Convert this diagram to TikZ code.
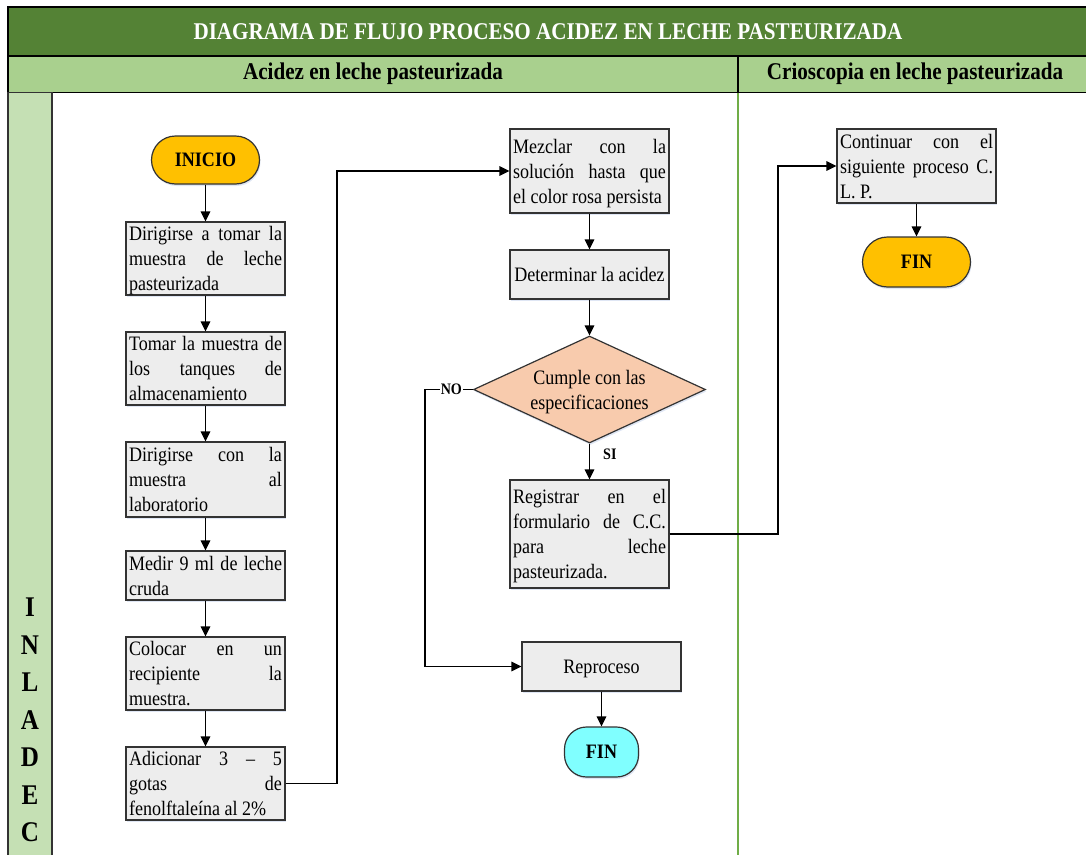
\documentclass[tikz,border=0pt]{standalone}
\usepackage{fontspec}
\setmainfont{Liberation Serif}[FakeStretch=0.88]
\usetikzlibrary{arrows.meta,shapes.geometric,shadows}

\definecolor{titlegreen}{HTML}{548235}
\definecolor{subgreen}{HTML}{A9D08E}
\definecolor{lanegreen}{HTML}{C5E0B4}
\definecolor{divgreen}{HTML}{70AD47}
\definecolor{termyellow}{HTML}{FFC000}
\definecolor{termcyan}{HTML}{80FFFF}
\definecolor{decisionfill}{HTML}{F8CBAD}
\definecolor{boxfill}{HTML}{EDEDED}
\definecolor{edgegray}{HTML}{333333}
\definecolor{glow}{HTML}{C9D6EC}

% one justified line of a process box
\newcommand\jline[1]{\makebox[153pt][s]{#1}}

\begin{document}
\begin{tikzpicture}[x=1pt,y=-1pt,
  glowshadow/.style={drop shadow={shadow xshift=1pt,shadow yshift=-2pt,fill=glow,opacity=0.6}},
  procbox/.style={draw=edgegray,fill=boxfill,line width=1.2pt,glowshadow,
    minimum width=159pt,inner xsep=3pt,inner ysep=2pt,align=left,text depth=0pt,
    font=\fontsize{20.5}{25}\selectfont},
  centerbox/.style={procbox,align=center},
  terminal/.style={draw=edgegray,line width=1.2pt,glowshadow,
    font=\fontsize{20.5}{24}\selectfont\bfseries,inner sep=0pt},
  decision/.style={diamond,draw=edgegray,fill=decisionfill,line width=1.2pt,glowshadow,
    shape aspect=2.17,inner sep=0pt,minimum width=232pt,minimum height=107pt,
    align=center,text depth=0pt,font=\fontsize{20.5}{25}\selectfont},
  flow/.style={line width=1.4pt,-{Triangle[length=10pt,width=9.5pt]}},
  branchlabel/.style={font=\fontsize{16}{18}\selectfont\bfseries,inner sep=1pt},
  headtext/.style={font=\fontsize{24}{26}\selectfont\bfseries}
]
\useasboundingbox (0,0) rectangle (1086,854);

% ---- swimlane frame ----
\path[draw=black,line width=1.2pt,fill=titlegreen] (8,7) rectangle (1092,56);
\path[draw=black,line width=1.2pt,fill=subgreen] (8,56) rectangle (1092,92.5);
\draw[black,line width=1.2pt] (738,56) -- (738,92.5);
\draw[divgreen,line width=1.5pt] (738,92.5) -- (738,860);
\path[draw=edgegray,line width=1.2pt,fill=lanegreen] (8,92.5) rectangle (52,860);

\node[headtext,text=white] (title) at (548,31.5) {DIAGRAMA DE FLUJO PROCESO ACIDEZ EN LECHE PASTEURIZADA};
\node[headtext] (laneA) at (373,74) {Acidez en leche pasteurizada};
\node[headtext] (laneB) at (915,74) {Crioscopia en leche pasteurizada};
\node[font=\fontsize{28.5}{37.5}\selectfont\bfseries,align=center] (org) at (30,720)
  {I\\N\\L\\A\\D\\E\\C};

% ---- first column ----
\node[terminal,fill=termyellow,rounded corners=24pt,minimum width=108pt,minimum height=48pt]
  (ini) at (205.5,160) {INICIO};
\node[procbox,minimum height=73pt] (b1) at (205.5,258.5)
  {\jline{Dirigirse a tomar la}\\\jline{muestra de leche}\\pasteurizada};
\node[procbox,minimum height=73pt] (b2) at (205.5,368.5)
  {\jline{Tomar la muestra de}\\\jline{los tanques de}\\almacenamiento};
\node[procbox,minimum height=75pt] (b3) at (205.5,479.5)
  {\jline{Dirigirse con la}\\\jline{muestra al}\\laboratorio};
\node[procbox,minimum height=49pt] (b4) at (205.5,575.5)
  {\jline{Medir 9 ml de leche}\\cruda};
\node[procbox,minimum height=73pt] (b5) at (205.5,673.5)
  {\jline{Colocar en un}\\\jline{recipiente la}\\muestra.};
\node[procbox,minimum height=73pt] (b6) at (205.5,783.5)
  {\jline{Adicionar 3 – 5}\\\jline{gotas de}\\fenolftaleína al 2\%};

% ---- second column ----
\node[procbox,minimum height=84pt] (mez) at (589.5,171)
  {\jline{Mezclar con la}\\\jline{solución hasta que}\\el color rosa persista};
\node[procbox,minimum height=49pt] (det) at (589.5,274.5) {Determinar la acidez};
\node[decision] (dec) at (589.5,389.5) {Cumple con las\\especificaciones};
\node[procbox,minimum height=108pt] (reg) at (589.5,534)
  {\jline{Registrar en el}\\\jline{formulario de C.C.}\\\jline{para leche}\\pasteurizada.};
\node[centerbox,minimum height=49pt] (rep) at (601.5,666.5) {Reproceso};
\node[terminal,fill=termcyan,rounded corners=22pt,minimum width=74pt,minimum height=50pt]
  (fin1) at (601.5,752) {FIN};

% ---- cryoscopy lane ----
\node[procbox,minimum height=74pt] (con) at (916.5,166)
  {\jline{Continuar con el}\\\jline{siguiente proceso C.}\\L. P.};
\node[terminal,fill=termyellow,rounded corners=25pt,minimum width=108pt,minimum height=50pt]
  (fin2) at (916.5,262) {FIN};

% routing columns of the long connectors
\coordinate (railA) at (337,0);
\coordinate (railNo) at (425,0);
\coordinate (railB) at (778,0);

% ---- connectors ----
\draw[flow] (ini) -- (b1);
\draw[flow] (b1) -- (b2);
\draw[flow] (b2) -- (b3);
\draw[flow] (b3) -- (b4);
\draw[flow] (b4) -- (b5);
\draw[flow] (b5) -- (b6);
\draw[flow] (b6.east) -- (b6.east -| railA) -- (mez.west -| railA) -- (mez.west);
\draw[flow] (mez) -- (det);
\draw[flow] (det) -- (dec);
\draw[flow] (dec.south) -- node[branchlabel,pos=0.3,right=12pt] (si) {SI} (reg.north);
\draw[flow] (dec.west) -- node[branchlabel,fill=white,pos=0.45] (no) {NO}
  (dec.west -| railNo) -- (rep.west -| railNo) -- (rep.west);
\draw[flow] (rep) -- (fin1);
\draw[flow] (reg.east) -- (reg.east -| railB) -- (con.west -| railB) -- (con.west);
\draw[flow] (con) -- (fin2);
\end{tikzpicture}
\end{document}
